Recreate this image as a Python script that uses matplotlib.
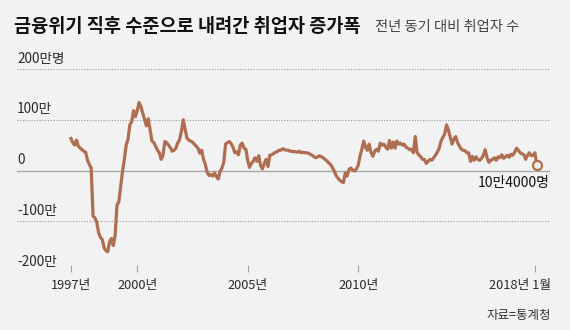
import numpy as np
import matplotlib.pyplot as plt
import matplotlib.transforms as mtransforms

plt.rcParams['font.family'] = ['Noto Sans CJK KR', 'DejaVu Sans']

# year-over-year change in employed persons, 만명, monthly from 1997-01
start_year = 1997
values = [
    63, 55, 50, 60, 48, 44, 41, 38, 36, 20, 12, 5,              # 1997
    -90, -93, -102, -122, -132, -136, -152, -158, -160, -140, -134, -148,  # 1998
    -128, -68, -62, -32, -2, 22, 50, 62, 90, 96, 118, 106,      # 1999
    118, 134, 126, 113, 100, 88, 102, 80, 58, 55, 48, 40,       # 2000
    35, 22, 30, 57, 55, 50, 45, 38, 40, 44, 54, 61,             # 2001
    77, 100, 82, 64, 60, 58, 56, 52, 48, 44, 34, 40,            # 2002
    22, 12, -4, -10, -8, -11, -5, -12, -17, -2, 5, 16,          # 2003
    52, 55, 57, 53, 46, 35, 37, 31, 50, 54, 44, 42,             # 2004
    20, 6, 14, 18, 25, 18, 29, 10, 3, 14, 22, 8,                # 2005
    30, 31, 33, 36, 37, 40, 40, 43, 41, 40, 40, 38,             # 2006
    38, 37, 37, 36, 38, 35, 36, 35, 35, 34, 32, 30,             # 2007
    27, 25, 27, 29, 27, 25, 22, 19, 15, 12, 6, -1,              # 2008
    -10, -15, -19, -22, -24, -5, -11, 2, 5, 1, -1, 3,           # 2009
    10, 28, 42, 58, 46, 40, 52, 35, 28, 38, 42, 38,             # 2010
    54, 50, 52, 46, 42, 59, 44, 56, 44, 58, 52, 54,             # 2011
    50, 52, 46, 44, 41, 42, 35, 67, 36, 30, 27, 22,             # 2012
    22, 14, 18, 22, 20, 25, 30, 36, 44, 58, 65, 72,             # 2013
    90, 80, 66, 52, 62, 67, 55, 48, 42, 40, 39, 35,             # 2014
    35, 18, 28, 20, 27, 22, 20, 24, 30, 41, 25, 16,             # 2015
    20, 22, 25, 20, 27, 25, 31, 24, 27, 30, 26, 32,             # 2016
    30, 36, 44, 40, 35, 33, 31, 22, 30, 35, 29, 30,             # 2017
    35, 10.4,                                                   # 2018
]
last_label = '10만4000명'

xtick_years = [1997, 2000, 2005, 2010, 2018]
xtick_labels = ['1997년', '2000년', '2005년', '2010년', '2018년 1월']
yticks = [200, 100, 0, -100, -200]
ytick_labels = ['200만명', '100만', '0', '-100만', '-200만']

line_color = '#b06e50'
bg = '#f2f2f2'

months = np.arange(len(values))

fig = plt.figure(figsize=(5.7, 3.3), dpi=100, facecolor=bg)
ax = fig.add_axes([17 / 570, 1 - 272 / 330, 533 / 570, 203 / 330])
ax.set_facecolor(bg)

ax.plot(months, values, color=line_color, lw=2.3, solid_joinstyle='round', zorder=3)
ax.plot(months[-1], values[-1], 'o', ms=6.5, mfc=bg, mec=line_color, mew=1.6, zorder=4)

ax.set_xlim(-29.3, 260.2)
ax.set_ylim(-200, 200)

# grid: solid zero line, dotted elsewhere
for v in yticks:
    if v == 0:
        ax.axhline(v, color='#a8a8a8', lw=1.0, zorder=1)
    else:
        ax.axhline(v, color='#9a9a9a', lw=0.8, ls=(0, (1, 1.5)), zorder=1)

for v, lab in zip(yticks, ytick_labels):
    ax.annotate(lab, xy=(0, v), xycoords=ax.get_yaxis_transform(),
                xytext=(0, 2.5), textcoords='offset points',
                ha='left', va='bottom', fontsize=9.8, color='#2a2a2a')

for s in ax.spines.values():
    s.set_visible(False)
ax.set_yticks([])
ax.set_xticks([(y - start_year) * 12 for y in xtick_years])
ax.set_xticklabels(xtick_labels)
ax.tick_params(axis='x', direction='in', length=5, width=0.8, color='#a0a0a0',
               labelsize=9.2, labelcolor='#2a2a2a', pad=5)
last = ax.get_xticklabels()[-1]
last.set_horizontalalignment('right')
last.set_transform(last.get_transform() +
                   mtransforms.ScaledTranslation(16 / 100, 0, fig.dpi_scale_trans))

ax.annotate(last_label, xy=(months[-1], values[-1]), xycoords='data',
            xytext=(13, -18), textcoords='offset pixels',
            ha='right', va='center', fontsize=10, color='#111111')

fig.text(14 / 570, 1 - 26 / 330, '금융위기 직후 수준으로 내려간 취업자 증가폭',
         fontsize=13.4, fontweight='bold', color='#111111', va='center', ha='left')
fig.text(375 / 570, 1 - 27 / 330, '전년 동기 대비 취업자 수',
         fontsize=10.3, color='#444444', va='center', ha='left')
fig.text(551 / 570, 1 - 315 / 330, '자료=통계청',
         fontsize=9, color='#333333', va='center', ha='right')

fig.savefig('out.png', dpi=100, facecolor=bg)
